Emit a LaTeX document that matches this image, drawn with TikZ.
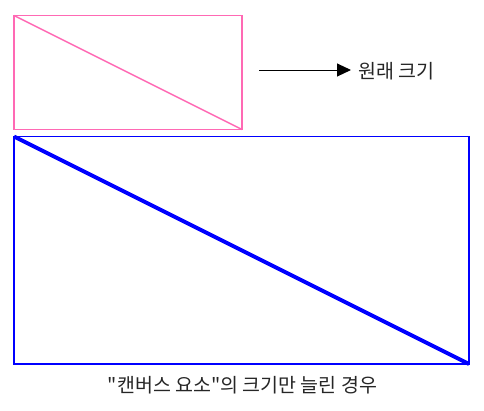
\documentclass[tikz,border=0pt]{standalone}
\usepackage{fontspec}
\newfontfamily\krfont{Noto Sans CJK KR}
\usetikzlibrary{arrows.meta}
\begin{document}
\begin{tikzpicture}[x=1pt,y=-1pt,
  lbl/.style={inner sep=0pt,font=\krfont\fontsize{19.5}{23}\selectfont,text=black!85},
  pinkline/.style={draw={rgb,255:red,255;green,105;blue,180},line width=1.5pt},
  blueline/.style={draw=blue,line width=1.5pt}]
\useasboundingbox (0,0) rectangle (484,410);
\coordinate (p1) at (14,15.5);
\coordinate (p2) at (242,129.5);
\draw[pinkline] (p1) rectangle (p2);
\draw[pinkline] (p1) -- (p2);
\coordinate (b1) at (14,136.5);
\coordinate (b2) at (469,364);
\draw[blueline] (b1) rectangle (b2);
\draw[draw=blue,line width=4pt] (b1) -- (b2);
\coordinate (a0) at (259,70);
\coordinate (a1) at (351,70);
\node[lbl,anchor=west] (orig) at (358,71) {원래 크기};
\draw[line width=1pt,-{Triangle[length=14pt,width=13pt]}] (a0) -- (a1);
\node[lbl] (cap) at (242.5,385) {"캔버스 요소"의 크기만 늘린 경우};
\end{tikzpicture}
\end{document}
